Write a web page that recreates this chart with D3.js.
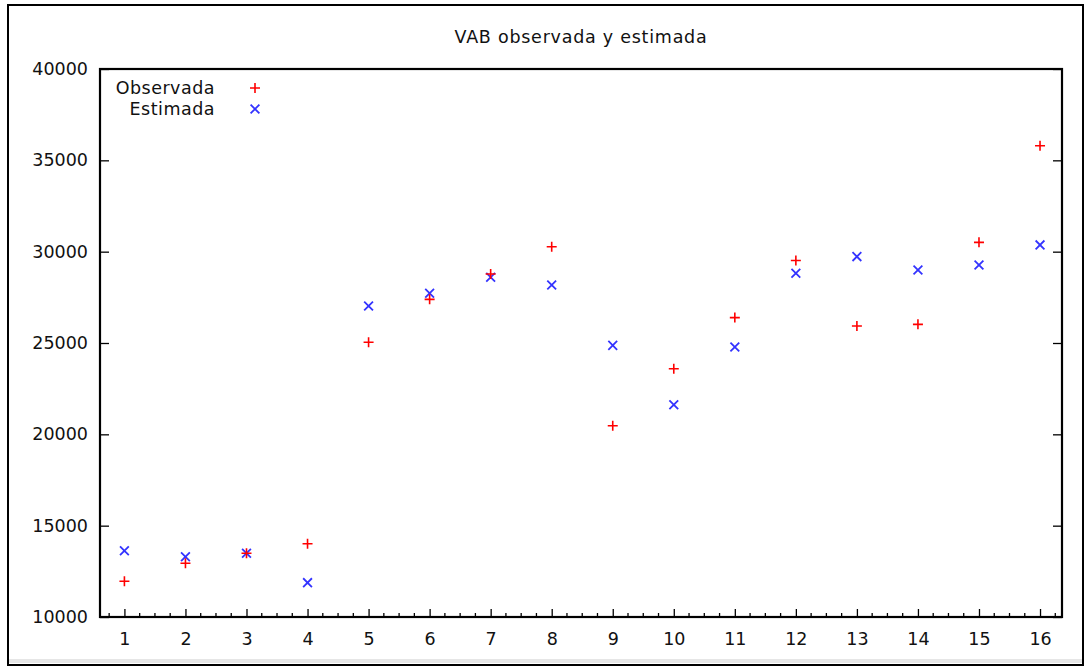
<!DOCTYPE html>
<html>
<head>
<meta charset="utf-8">
<script src="https://cdn.jsdelivr.net/npm/d3@7"></script>
<style>
  body { margin: 0; background: #fff; }
  text { font-family: "DejaVu Sans", Verdana, sans-serif; font-size: 17.5px; fill: #111; }
  .title { letter-spacing: 0.75px; }
  .legend text { letter-spacing: 0.5px; }
</style>
</head>
<body>
<div id="chart"></div>
<script>
// data
const periods = d3.range(1, 17);
const observada = [11960, 12940, 13490, 14010, 25040, 27390, 28780, 30270,
                   20470, 23590, 26390, 29520, 25930, 26020, 30510, 35800];
const estimada  = [13630, 13300, 13490, 11880, 27030, 27720, 28600, 28180,
                   24870, 21620, 24780, 28820, 29730, 29000, 29270, 30370];
const yTicks = [10000, 15000, 20000, 25000, 30000, 35000, 40000];
const seriesNames = ["Observada", "Estimada"];

const width = 1085, height = 666;
const margin = {top: 69, right: 23, bottom: 49, left: 100};

const svg = d3.select("#chart").append("svg")
  .attr("width", width)
  .attr("height", height);

// outer frame
svg.append("rect")
  .attr("x", 8).attr("y", 5)
  .attr("width", 1075).attr("height", 660)
  .attr("fill", "none").attr("stroke", "#000").attr("stroke-width", 2);
svg.append("rect")
  .attr("x", 9).attr("y", 659)
  .attr("width", 1073).attr("height", 4)
  .attr("fill", "#e6e6e6");

const x = d3.scaleLinear()
  .domain([0.6, 16.36])
  .range([margin.left, width - margin.right]);

const y = d3.scaleLinear()
  .domain([10000, 40000])
  .range([height - margin.bottom, margin.top]);

const plot = svg.append("g");

// minor x ticks (quarter steps)
const minor = d3.range(0.75, 16.36, 0.25).filter(v => Math.abs(v - Math.round(v)) > 0.01);
plot.selectAll(".minor")
  .data(minor)
  .join("line")
    .attr("x1", d => x(d)).attr("x2", d => x(d))
    .attr("y1", y(10000)).attr("y2", y(10000) - 4)
    .attr("stroke", "#000").attr("stroke-width", 1.3);

// major x ticks + labels
plot.append("g")
  .attr("transform", `translate(0, ${y(10000)})`)
  .call(d3.axisBottom(x).tickValues(periods).tickSize(-8).tickPadding(16).tickFormat(d3.format("d")))
  .call(g => g.select(".domain").remove())
  .call(g => g.selectAll("line").attr("stroke-width", 1.3))
  .call(g => g.selectAll("text").attr("font-size", null).attr("font-family", null));

// y axis left
plot.append("g")
  .attr("transform", `translate(${margin.left}, 0)`)
  .call(d3.axisLeft(y).tickValues(yTicks).tickSize(-9).tickPadding(12).tickFormat(d3.format("d")))
  .call(g => g.select(".domain").remove())
  .call(g => g.selectAll("line").attr("stroke-width", 1.3))
  .call(g => g.selectAll("text").attr("font-size", null).attr("font-family", null));

// y axis right (ticks only)
plot.append("g")
  .attr("transform", `translate(${width - margin.right}, 0)`)
  .call(d3.axisRight(y).tickValues(yTicks).tickSize(-9).tickFormat(""))
  .call(g => g.select(".domain").remove())
  .call(g => g.selectAll("line").attr("stroke-width", 1.3));

// plot border
plot.append("rect")
  .attr("x", margin.left).attr("y", margin.top)
  .attr("width", width - margin.left - margin.right)
  .attr("height", height - margin.top - margin.bottom)
  .attr("fill", "none").attr("stroke", "#000").attr("stroke-width", 2.2);

// title
svg.append("text")
  .attr("class", "title")
  .attr("x", (margin.left + width - margin.right) / 2)
  .attr("y", 43)
  .attr("text-anchor", "middle")
  .text("VAB observada y estimada");

// markers
const s = 5;
function plus(g, cx, cy, color) {
  g.append("path")
    .attr("d", `M${cx - s},${cy}H${cx + s}M${cx},${cy - s}V${cy + s}`)
    .attr("stroke", color).attr("stroke-width", 1.6).attr("fill", "none");
}
function cross(g, cx, cy, color) {
  const k = 4.4;
  g.append("path")
    .attr("d", `M${cx - k},${cy - k}L${cx + k},${cy + k}M${cx - k},${cy + k}L${cx + k},${cy - k}`)
    .attr("stroke", color).attr("stroke-width", 1.8).attr("fill", "none");
}

const pts = plot.append("g");
periods.forEach((p, i) => {
  cross(pts, x(p), y(estimada[i]), "#3333ff");
});
periods.forEach((p, i) => {
  plus(pts, x(p), y(observada[i]), "#ff0000");
});

// legend
const legend = svg.append("g").attr("class", "legend");
legend.append("text").attr("x", 215).attr("y", 94).attr("text-anchor", "end").text(seriesNames[0]);
legend.append("text").attr("x", 215).attr("y", 115).attr("text-anchor", "end").text(seriesNames[1]);
plus(legend, 255, 88, "#ff0000");
cross(legend, 255, 109, "#3333ff");
</script>
</body>
</html>
